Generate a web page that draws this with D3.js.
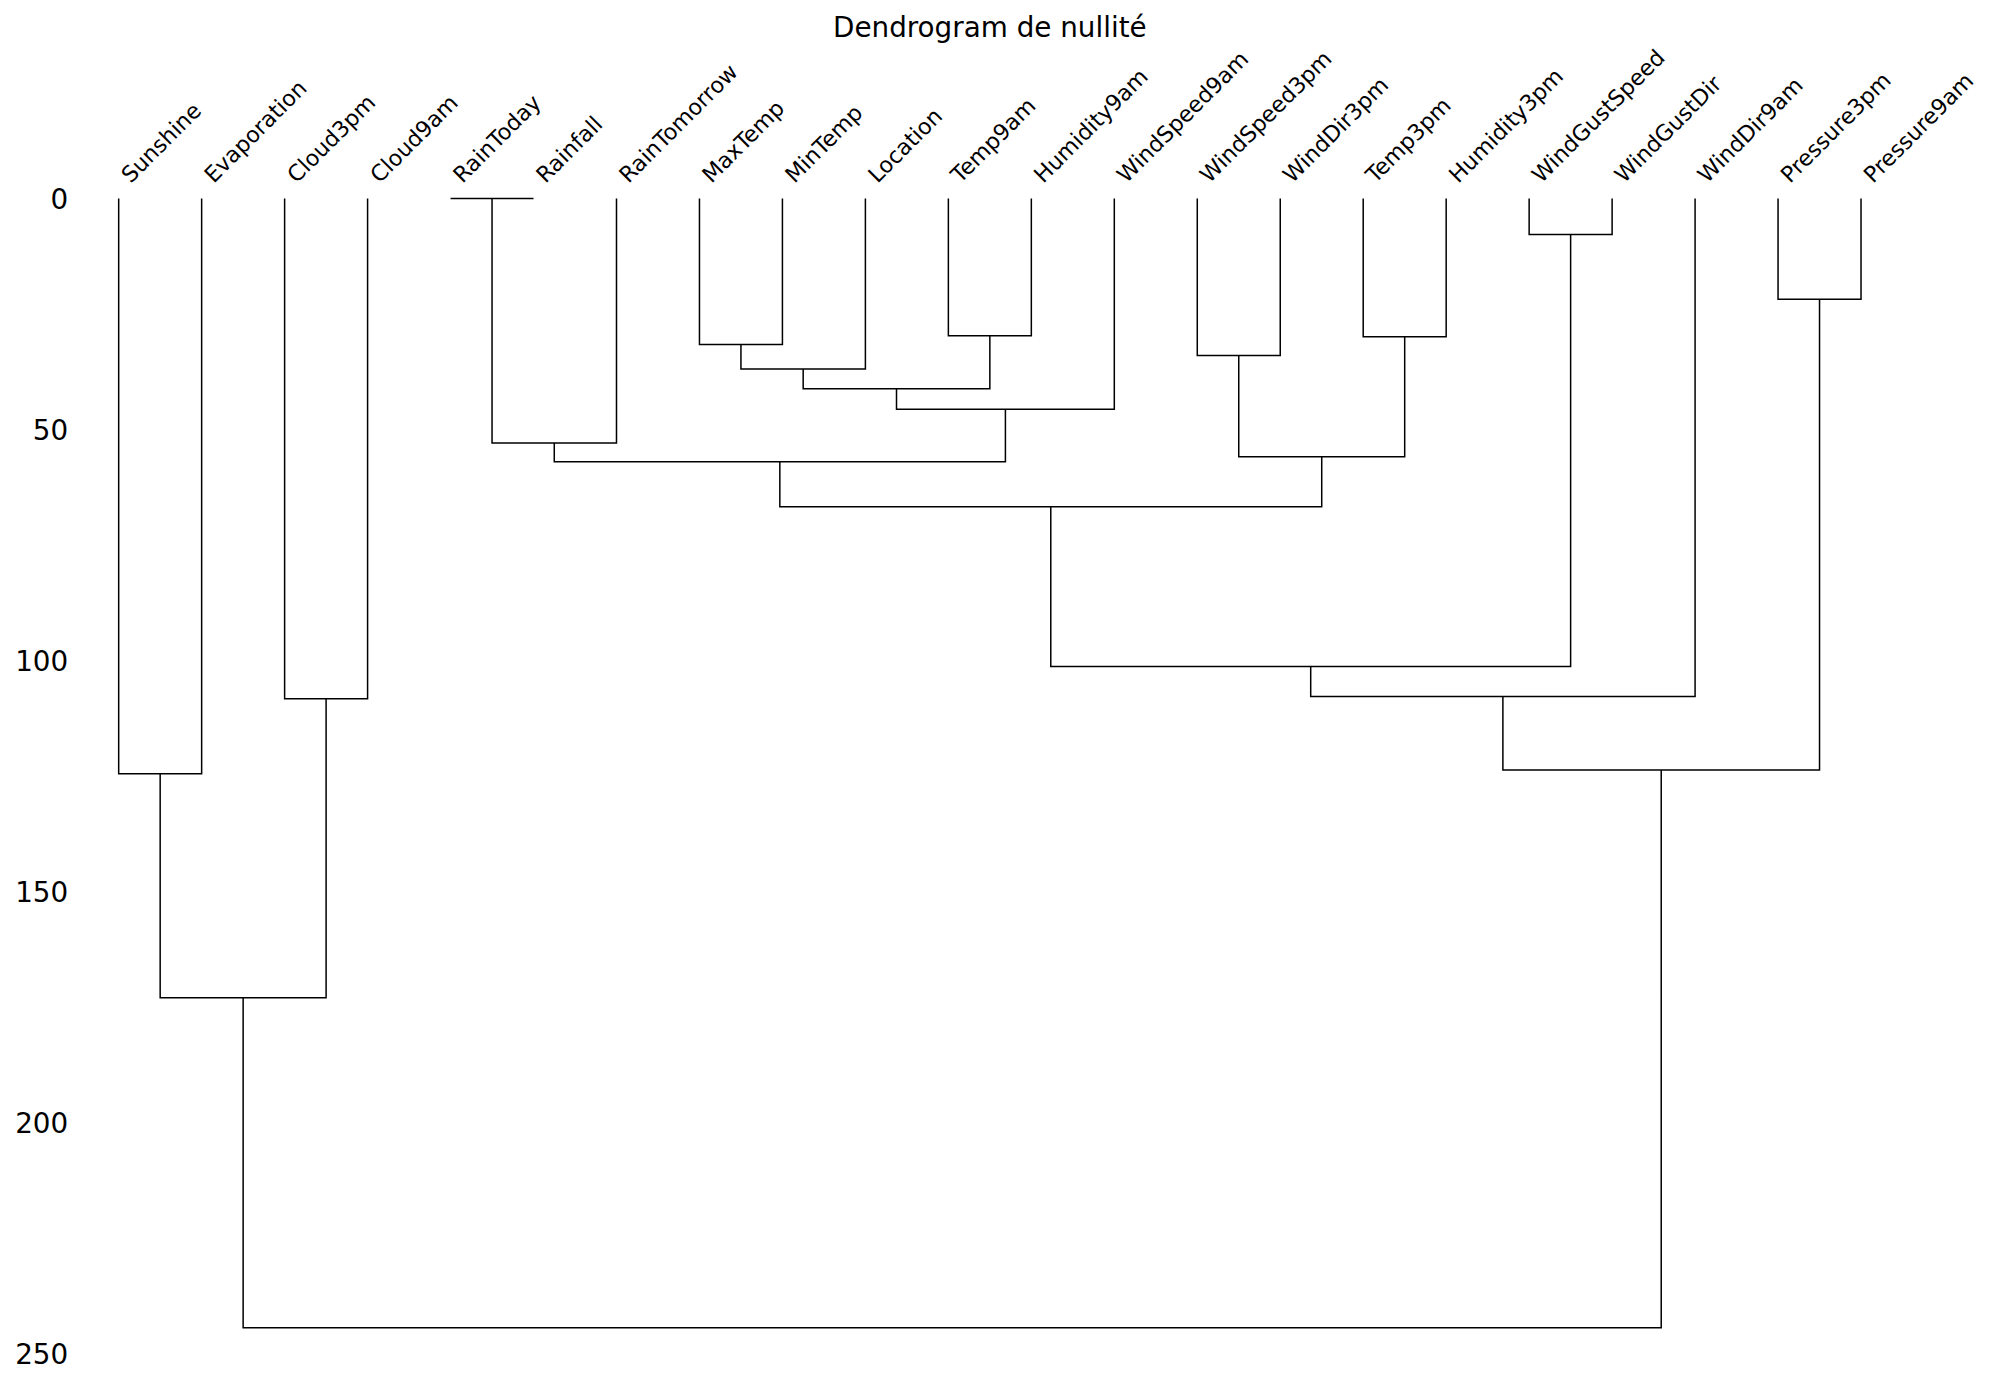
<!DOCTYPE html>
<html>
<head>
<meta charset="utf-8">
<script src="https://cdn.jsdelivr.net/npm/d3@7"></script>
<style>
  html, body { margin: 0; padding: 0; background: #fff; }
  svg { display: block; font-family: "DejaVu Sans", sans-serif; }
</style>
</head>
<body>
<svg id="chart" width="2000" height="1400"></svg>
<script>
// Leaf labels in dendrogram order
const leafLabels = ["Sunshine","Evaporation","Cloud3pm","Cloud9am","RainToday","Rainfall","RainTomorrow",
  "MaxTemp","MinTemp","Location","Temp9am","Humidity9am","WindSpeed9am","WindSpeed3pm","WindDir3pm",
  "Temp3pm","Humidity3pm","WindGustSpeed","WindGustDir","WindDir9am","Pressure3pm","Pressure9am"];

// Linkage (scipy style): merge k creates node 22+k from mergeLeft[k] and mergeRight[k] at mergeHeight[k]
const mergeLeft   = [4, 17, 20, 10, 15, 7, 13, 27, 29, 30, 22, 28, 32, 34, 35, 36, 2, 37, 0, 40, 41];
const mergeRight  = [5, 18, 21, 11, 16, 8, 14, 9, 25, 12, 6, 26, 31, 33, 23, 19, 3, 24, 1, 38, 39];
const mergeHeight = [0, 7.8, 21.8, 29.7, 29.9, 31.6, 34.0, 36.9, 41.2, 45.6, 52.9, 55.9, 57.0, 66.7,
  101.3, 107.8, 108.3, 123.7, 124.5, 173.0, 244.4];

const yTicks = [0, 50, 100, 150, 200, 250];
const titleText = "Dendrogram de nullité";

const svg = d3.select("#chart");
const nLeaves = leafLabels.length;

const x = d3.scaleLinear().domain([0, 10 * nLeaves]).range([77.2, 1902.5]);
const y = d3.scaleLinear().domain([0, 250]).range([198.5, 1353.5]);

// Node positions
const nodeX = [], nodeH = [];
leafLabels.forEach((d, i) => { nodeX[i] = 5 + 10 * i; nodeH[i] = 0; });
const links = [];
mergeHeight.forEach((h, k) => {
  const a = mergeLeft[k], b = mergeRight[k];
  const id = nLeaves + k;
  nodeX[id] = (nodeX[a] + nodeX[b]) / 2;
  nodeH[id] = h;
  links.push({ xa: nodeX[a], ha: nodeH[a], xb: nodeX[b], hb: nodeH[b], h: h });
});

// Links (U shapes)
svg.append("g").selectAll("path").data(links).join("path")
  .attr("d", d => {
    const p = d3.path();
    p.moveTo(x(d.xa), y(d.ha));
    p.lineTo(x(d.xa), y(d.h));
    p.lineTo(x(d.xb), y(d.h));
    p.lineTo(x(d.xb), y(d.hb));
    return p.toString();
  })
  .attr("fill", "none")
  .attr("stroke", "#000")
  .attr("stroke-width", 1.5)
  .attr("stroke-linejoin", "miter");

// Y axis (no domain, no ticks)
const yAxis = d3.axisLeft(y).tickValues(yTicks).tickSize(0).tickPadding(9).tickFormat(d3.format("d"));
const gy = svg.append("g").attr("transform", `translate(${x(0)},0)`).call(yAxis);
gy.select(".domain").remove();
gy.selectAll("text")
  .attr("font-family", "DejaVu Sans, sans-serif")
  .attr("font-size", 27.8)
  .attr("fill", "#000")
  .attr("dy", "0.36em");

// Leaf labels, rotated 45°
const labelSize = 22.2;
svg.append("g").selectAll("text").data(leafLabels).join("text")
  .attr("transform", (d, i) => `translate(${x(5 + 10 * i) + 12},184) rotate(-45)`)
  .attr("font-size", labelSize)
  .attr("fill", "#000")
  .attr("text-anchor", "start")
  .text(d => d);

// Title
svg.append("text")
  .attr("x", (x(0) + x(10 * nLeaves)) / 2)
  .attr("y", 37)
  .attr("text-anchor", "middle")
  .attr("font-size", 27.8)
  .attr("fill", "#000")
  .text(titleText);
</script>
</body>
</html>
